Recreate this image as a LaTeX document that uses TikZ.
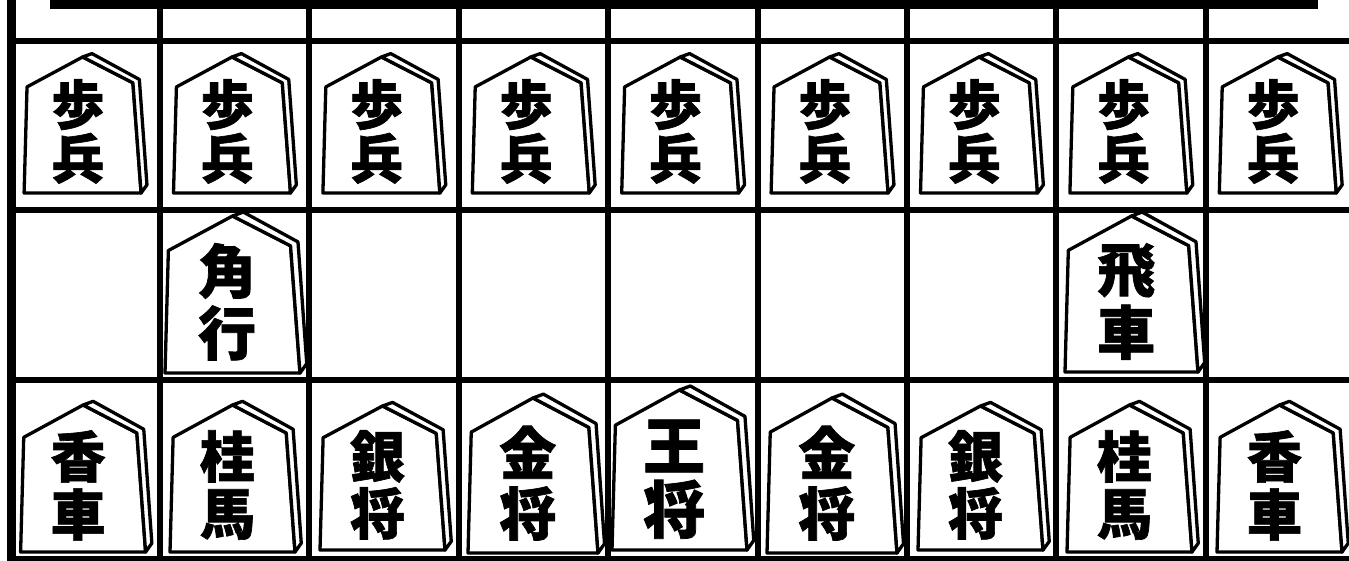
\documentclass[tikz,border=0pt]{standalone}
\usepackage{fontspec}
\newfontfamily\cjk[BoldFeatures={FakeBold=1.2}]{Noto Sans CJK JP}
\tikzset{
  gridline/.style={line width=6pt},
  border/.style={line width=9pt},
  piece/.style={draw=black, fill=white, line width=3.3pt, line join=round},
  kanji/.style={inner sep=0pt, text=black},
}
\newcommand\koma[8]{% #1 name, #2 x, #3 y (bottom-left), #4 width, #5 height, #6 #7 chars, #8 font size
  \begin{scope}[shift={(#2,#3)}, x=#4pt, y=#5pt]
    \draw[piece] (0,0) coordinate (#1-bl) -- (0.025,0.78) -- (0.5,1) coordinate (#1-apex) -- (0.93,0.81) -- (1,0) -- cycle;
    \draw[piece] (0.5,1) -- (0.58,1.025) -- (0.985,0.835) -- (1.05,0.06) -- (1,0) -- (0.93,0.81) -- cycle;
    \node[kanji, font=\cjk\bfseries\fontsize{#8}{#8}\selectfont] (#1-a) at (0.46,0.65) {#6};
    \node[kanji, font=\cjk\bfseries\fontsize{#8}{#8}\selectfont] (#1-b) at (0.46,0.255) {#7};
  \end{scope}}
\begin{document}
\begin{tikzpicture}[x=1pt,y=-1pt]
  \useasboundingbox (0,0) rectangle (1349,561);
  \fill[white] (0,0) rectangle (1349,561);
  \clip (0,0) rectangle (1349,561);
  % grid
  \foreach \k in {1,...,8} \draw[gridline] ({10.6+149.4*\k},0) -- ({10.6+149.4*\k},561);
  \foreach \yy in {41,210,380} \draw[gridline] (11.5,\yy) -- (1349,\yy);
  \draw[line width=8pt] (11.5,560) -- (1349,560);
  \draw[border] (11.5,0) -- (11.5,561);
  % top box
  \fill[white] (54.5,-20) rectangle (1313.5,5);
  \draw[border] (54.5,-20) -- (54.5,5) -- (1313.5,5) -- (1313.5,-20);
  % pawns
  \foreach \k in {0,...,8} {
    \koma{p\k}{10.6+149.4*\k+13.5}{193}{117}{136}{歩}{兵}{53}
  }
  % bishop and rook
  \koma{kaku}{165}{373}{135}{157}{角}{行}{58}
  \koma{hisha}{1065}{372}{133}{156}{飛}{車}{58}
  % back rank
  \koma{ky1}{20.6}{552}{125}{147}{香}{車}{55}
  \koma{ke1}{170}{552}{125}{147}{桂}{馬}{55}
  \koma{gi1}{320}{550}{125}{144}{銀}{将}{55}
  \koma{ki1}{468}{553}{130}{155}{金}{将}{57}
  \koma{ou}{612}{550}{135}{160}{王}{将}{62}
  \koma{ki2}{767}{553}{130}{155}{金}{将}{57}
  \koma{gi2}{918}{550}{125}{144}{銀}{将}{55}
  \koma{ke2}{1067}{552}{125}{147}{桂}{馬}{55}
  \koma{ky2}{1217}{552}{125}{147}{香}{車}{55}
\end{tikzpicture}
\end{document}
